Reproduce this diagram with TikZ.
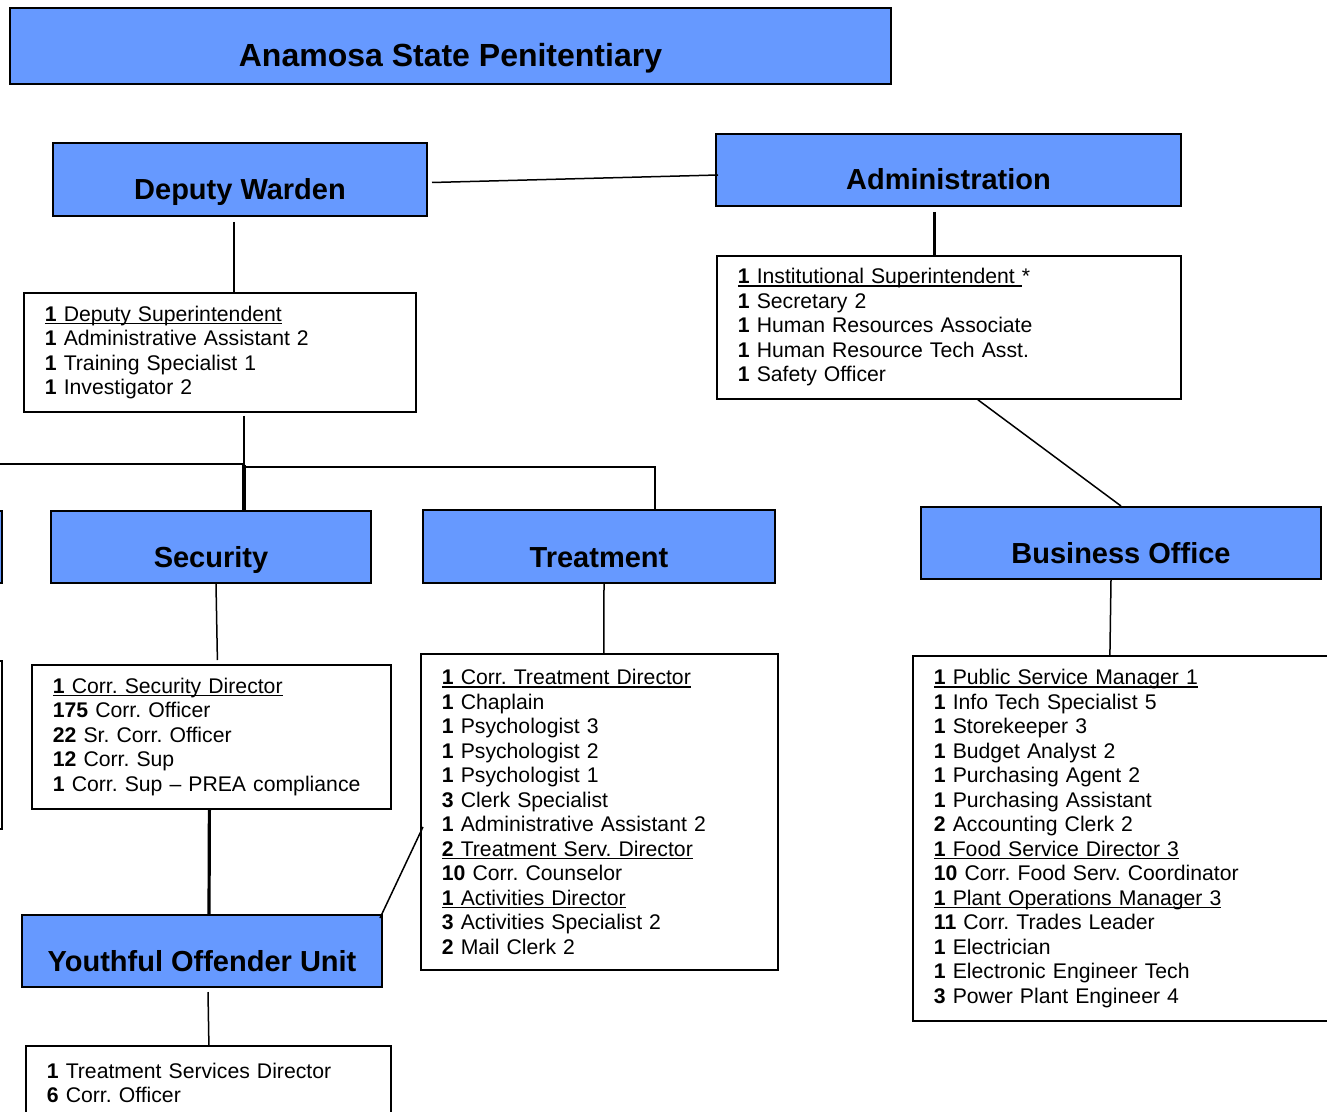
\documentclass[tikz,border=0pt]{standalone}
\usepackage{fontspec}
\setmainfont{Liberation Sans}
\usetikzlibrary{calc,positioning}
\definecolor{boxblue}{RGB}{102,153,255}
\newsavebox\ulsave
\newcommand\ulined[1]{\leavevmode\sbox\ulsave{#1}\rlap{\rule[-1.5pt]{\wd\ulsave}{0.7pt}}\usebox\ulsave}
\newcommand\cnt[1]{\textbf{#1}}
\tikzset{
        header/.style={draw, line width=1pt, fill=boxblue, anchor=north west, inner sep=0pt,
                font=\bfseries\fontsize{14.5}{17}\selectfont, text height=28.5pt, text depth=8pt, minimum width=#1},
        listbox/.style={draw, line width=0.9pt, fill=white, anchor=north west, align=left,
                inner xsep=10.5pt, inner ysep=0pt, font=\fontsize{10.6}{12.25}\selectfont\frenchspacing, text width=#1},
        link/.style={line width=0.75pt},
        trunk/.style={line width=1.6pt}
}
\begin{document}
\begin{tikzpicture}[x=0.5pt, y=-0.5pt]
        \useasboundingbox (0,0) rectangle (1327,1112);
        \clip (0,0) rectangle (1327,1112);
        \node[header=440.5pt, text height=29.5pt, text depth=8.5pt, font=\bfseries\fontsize{16}{19}\selectfont] (title) at (9,7) {Anamosa State Penitentiary};
        \node[header=187pt] (dw) at (52,142) {Deputy Warden};
        \node[header=232.5pt, text height=28pt] (adm) at (715,133) {Administration};
        \node[header=160pt, text height=28pt] (sec) at (50,510) {Security};
        \node[header=176pt] (treat) at (422,509) {Treatment};
        \node[header=200pt, text height=28pt] (biz) at (920,506) {Business Office};
        \node[header=180pt, text height=28pt] (you) at (21,914) {Youthful Offender Unit};
        \node[header=160pt, text height=28pt, anchor=north east] (cuthead) at (3,510) {};

        \node[listbox=175pt, minimum height=59.5pt] (dwlist) at (23,292) {
                \ulined{\cnt{1} Deputy Superintendent}\\
                \cnt{1} Administrative Assistant 2\\
                \cnt{1} Training Specialist 1\\
                \cnt{1} Investigator 2};
        \node[listbox=211pt, minimum height=71.5pt] (admlist) at (716,255) {
                \ulined{\cnt{1} Institutional Superintendent }*\\
                \cnt{1} Secretary 2\\
                \cnt{1} Human Resources Associate\\
                \cnt{1} Human Resource Tech Asst.\\
                \cnt{1} Safety Officer};
        \node[listbox=158.5pt, minimum height=72pt] (seclist) at (31,664) {
                \ulined{\cnt{1} Corr. Security Director}\\
                \cnt{175} Corr. Officer\\
                \cnt{22} Sr. Corr. Officer\\
                \cnt{12} Corr. Sup\\
                \cnt{1} Corr. Sup – PREA compliance};
        \node[listbox=157.5pt, minimum height=158pt] (treatlist) at (420,653) {
                \ulined{\cnt{1} Corr. Treatment Director}\\
                \cnt{1} Chaplain\\
                \cnt{1} Psychologist 3\\
                \cnt{1} Psychologist 2\\
                \cnt{1} Psychologist 1\\
                \cnt{3} Clerk Specialist\\
                \cnt{1} Administrative Assistant 2\\
                \ulined{\cnt{2} Treatment Serv. Director}\\
                \cnt{10} Corr. Counselor\\
                \ulined{\cnt{1} Activities Director}\\
                \cnt{3} Activities Specialist 2\\
                \cnt{2} Mail Clerk 2};
        \node[listbox=193pt, minimum height=182.5pt] (bizlist) at (912,655) {
                \ulined{\cnt{1} Public Service Manager 1}\\
                \cnt{1} Info Tech Specialist 5\\
                \cnt{1} Storekeeper 3\\
                \cnt{1} Budget Analyst 2\\
                \cnt{1} Purchasing Agent 2\\
                \cnt{1} Purchasing Assistant\\
                \cnt{2} Accounting Clerk 2\\
                \ulined{\cnt{1} Food Service Director 3}\\
                \cnt{10} Corr. Food Serv. Coordinator\\
                \ulined{\cnt{1} Plant Operations Manager 3}\\
                \cnt{11} Corr. Trades Leader\\
                \cnt{1} Electrician\\
                \cnt{1} Electronic Engineer Tech\\
                \cnt{3} Power Plant Engineer 4};
        \node[listbox=161.5pt, minimum height=37pt] (youlist) at (25,1045) {
                \cnt{1} Treatment Services Director\\
                \cnt{6} Corr. Officer};
        \node[listbox=130pt, minimum height=84pt, anchor=north east] (cutlist) at (3,660) {};

        \coordinate (dwdrop) at ($(dw.south)+(-6,5)$);
        \coordinate (admdrop) at ($(adm.south)+(-14,5)$);
        \coordinate (fork) at ($(dwlist.south)+(24,52)$);
        \coordinate (forkl) at ($(fork)+(0,-1)$);
        \coordinate (forkr) at ($(fork)+(0,2)$);
        \coordinate (treattop) at ($(treat.north)+(56,0)$);

        \draw[link] ($(dw.east)+(4,3)$) -- ($(adm.west)+(3,5)$);
        \draw[link] (dwdrop) -- (dwdrop |- dwlist.north);
        \draw[trunk] (admdrop) -- (admdrop |- admlist.north);
        \draw[link] ($(dwlist.south)+(24,3)$) -- (fork);
        \draw[trunk] (fork) -- (fork |- sec.north);
        \draw[link] (forkl) -| (cuthead.north);
        \draw[link] (forkr) -| (treattop);
        \draw[link] ($(sec.south)+(5,0)$) -- ($(seclist.north)+(6,-4)$);
        \draw[trunk] ($(seclist.south)+(-2,0)$) -- ($(you.north)+(7,0)$);
        \draw[link] ($(treat.south)+(5,0)$) -- ($(treatlist.north)+(4.5,0)$);
        \draw[link] ($(treatlist.west)+(3,15)$) -- ($(you.north east)+(-3,4)$);
        \draw[link] ($(admlist.south)+(29,0)$) -- (biz.north);
        \draw[link] ($(biz.south)+(-10,0)$) -- ($(bizlist.north)+(-17,0)$);
        \draw[link] ($(you.south)+(6,4)$) -- ($(youlist.north)+(0.5,0)$);
\end{tikzpicture}
\end{document}
